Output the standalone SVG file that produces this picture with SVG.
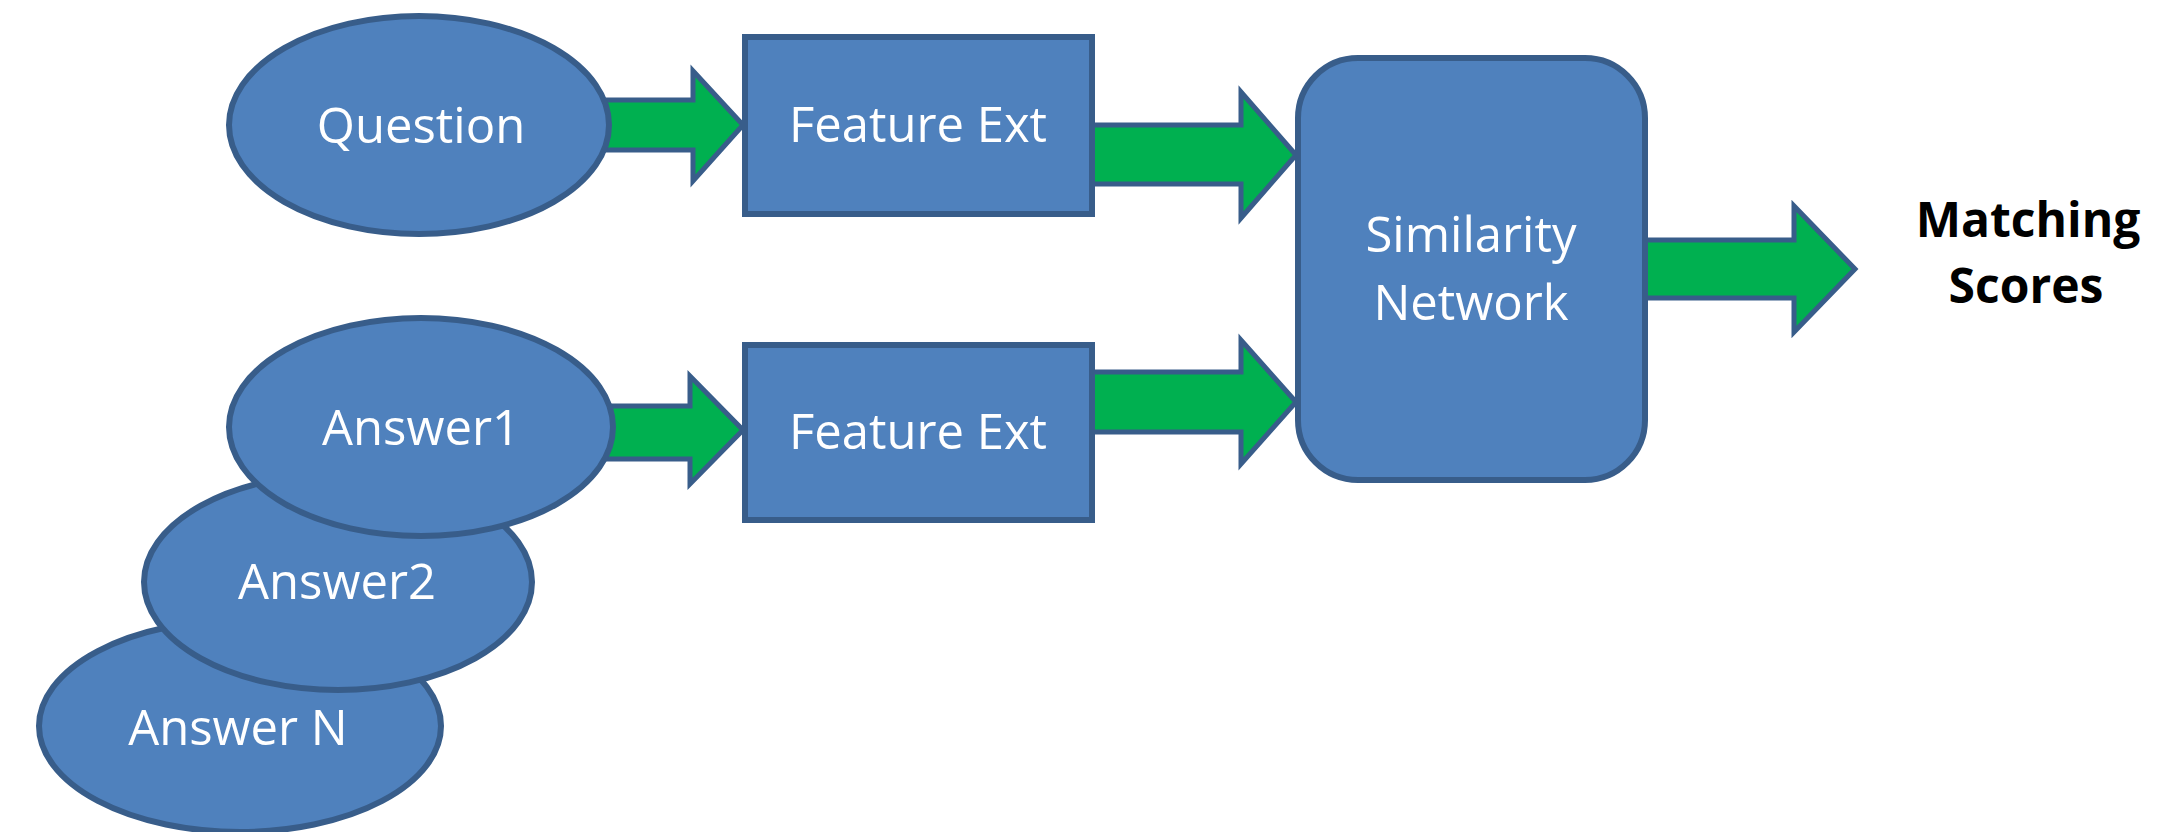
<svg xmlns="http://www.w3.org/2000/svg" width="2164" height="832" viewBox="0 0 2164 832">
<style>
.node{fill:#4F81BD;stroke:#385D8A;stroke-width:6}
.arrow{fill:#00B050;stroke:#385D8A;stroke-width:5;stroke-linejoin:miter}
.lbl{font-family:"Open Sans","Noto Sans",sans-serif;font-size:49px;fill:#FFFFFF;text-anchor:middle}
.out{font-family:"Open Sans","Noto Sans",sans-serif;font-size:48px;font-weight:bold;fill:#000000;text-anchor:middle}
</style>
<rect width="2164" height="832" fill="#FFFFFF"/>
<g id="connectors">
<path class="arrow" d="M590,100 L693,100 L693,71 L743,125 L693,181 L693,150 L590,150 Z"/>
<path class="arrow" d="M595,406 L690,406 L690,376 L743,430 L690,484 L690,459 L595,459 Z"/>
<path class="arrow" d="M1092,125 L1241,125 L1241,92 L1296,155 L1241,218 L1241,184 L1092,184 Z"/>
<path class="arrow" d="M1092,372 L1241,372 L1241,340 L1296,402 L1241,464 L1241,432 L1092,432 Z"/>
<path class="arrow" d="M1645,240 L1794,240 L1794,206 L1855,269 L1794,332 L1794,298 L1645,298 Z"/>
</g>
<g id="answerN">
<ellipse class="node" cx="240" cy="726" rx="201" ry="106"/>
<text class="lbl" x="238" y="745">Answer N</text>
</g>
<g id="answer2">
<ellipse class="node" cx="338" cy="582" rx="194" ry="108"/>
<text class="lbl" x="337" y="599">Answer2</text>
</g>
<g id="answer1">
<ellipse class="node" cx="421" cy="427" rx="192" ry="109"/>
<text class="lbl" x="421" y="445">Answer1</text>
</g>
<g id="question">
<ellipse class="node" cx="419" cy="125" rx="190" ry="109"/>
<text class="lbl" x="421" y="143">Question</text>
</g>
<g id="feature1">
<rect class="node" x="745" y="37" width="347" height="177"/>
<text class="lbl" x="918" y="142">Feature Ext</text>
</g>
<g id="feature2">
<rect class="node" x="745" y="345" width="347" height="175"/>
<text class="lbl" x="918" y="449">Feature Ext</text>
</g>
<g id="similarity">
<rect class="node" x="1298" y="58" width="347" height="422" rx="60" ry="60"/>
<text class="lbl" x="1471" y="252">Similarity</text>
<text class="lbl" x="1471" y="320">Network</text>
</g>
<g id="matching">
<text class="out" x="2028" y="237">Matching</text>
<text class="out" x="2026" y="303">Scores</text>
</g>
</svg>
